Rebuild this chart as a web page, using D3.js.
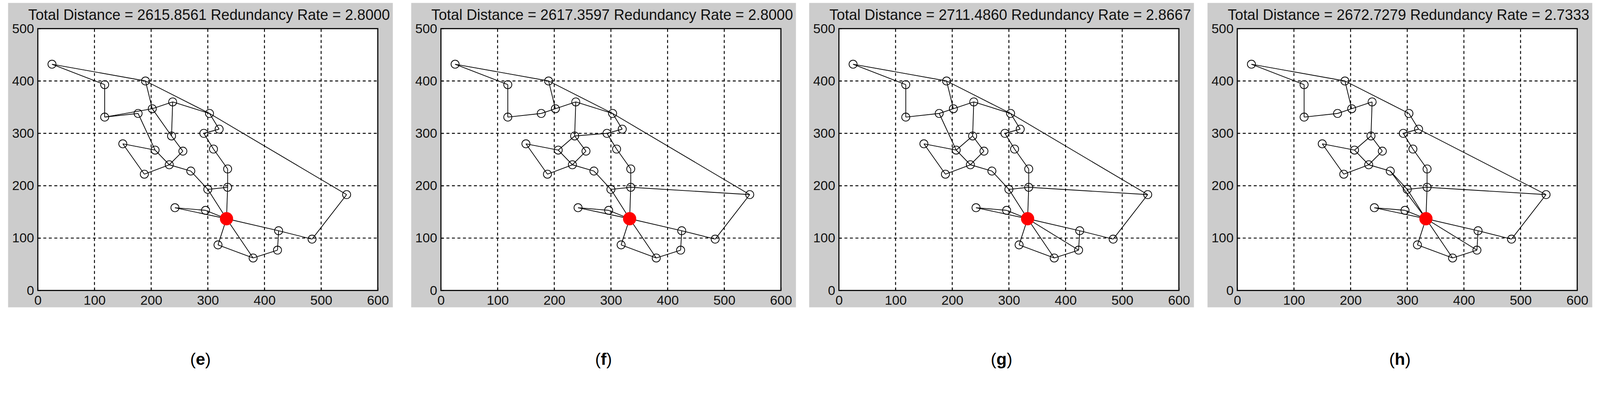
<!DOCTYPE html>
<html>
<head>
<meta charset="utf-8">
<script src="https://cdn.jsdelivr.net/npm/d3@7"></script>
<style>
  html, body { margin: 0; padding: 0; background: #fff; overflow: hidden; }
  svg { display: block; width: 100vw; height: auto; }
  text { font-family: "Liberation Sans", Arial, sans-serif; }
</style>
</head>
<body>
<svg id="chart" viewBox="0 0 4358 1020" preserveAspectRatio="xMinYMin meet"></svg>
<script>
// sensor node positions (same in every panel), index 24 is the sink
const nodeX = [25,118,190,118,177,202,238,303,320,293,236,150,207,256,310,232,270,188,335,300,335,545,242,296,333,425,484,318,380,423];
const nodeY = [432,393,400,331,338,347,360,338,308,300,295,280,268,266,270,240,228,222,232,193,197,183,158,153,137,114,98,87,62,77];
const sink = 24;

const panelLabels = ['e', 'f', 'g', 'h'];
const totalDistance = ['2615.8561', '2617.3597', '2711.4860', '2672.7279'];
const redundancyRate = ['2.8000', '2.8000', '2.8667', '2.7333'];

const edgesE = [[0,1],[0,2],[1,3],[2,5],[2,7],[7,21],[3,4],[3,5],[4,12],[5,6],[5,10],[10,13],[6,10],[6,7],
  [7,8],[8,9],[9,14],[14,18],[18,20],[20,19],[19,16],[16,15],[15,13],[15,17],[12,15],[11,12],[11,17],
  [19,24],[20,24],[22,23],[22,24],[23,24],[24,25],[25,26],[25,29],[29,28],[28,27],[27,24],[28,24],[26,21]];
const edgesF = [[0,1],[0,2],[1,3],[3,4],[4,5],[2,5],[5,6],[6,10],[6,7],[2,7],[7,21],[7,8],[8,9],[9,10],
  [10,12],[10,13],[13,15],[12,15],[11,12],[11,17],[17,15],[15,16],[16,19],[9,14],[14,18],[18,20],[20,19],
  [20,21],[19,24],[20,24],[22,23],[22,24],[23,24],[24,25],[25,26],[26,21],[25,29],[29,28],[28,27],[27,24],[28,24]];
const edgesG = [[0,1],[0,2],[1,3],[3,4],[4,5],[2,5],[5,6],[6,7],[2,7],[7,21],[7,8],[8,9],[6,10],[4,12],
  [10,12],[10,13],[12,15],[13,15],[11,12],[11,17],[17,15],[15,16],[16,19],[9,14],[14,18],[18,20],[19,20],
  [20,21],[19,24],[20,24],[22,23],[22,24],[23,24],[24,25],[25,26],[26,21],[25,29],[29,28],[28,27],[27,24],[28,24],[29,24]];
const edgesH = [[0,1],[0,2],[1,3],[3,4],[4,5],[2,5],[5,6],[6,10],[2,7],[7,8],[8,21],[8,9],[9,14],[14,18],
  [18,20],[20,19],[20,21],[16,19],[19,24],[16,24],[10,12],[10,13],[12,15],[13,15],[11,12],[11,17],[17,15],
  [15,16],[22,23],[22,24],[23,24],[24,25],[25,26],[26,21],[25,29],[29,28],[28,27],[27,24],[28,24],[29,24],[20,24]];
const panelEdges = [edgesE, edgesF, edgesG, edgesH];

const xTicks = [0,100,200,300,400,500,600];
const yTicks = [0,100,200,300,400,500];

const svg = d3.select('#chart');
const panelLeft = [22, 1120, 2204, 3289];
const boxW = 1048, boxTop = 8, boxH = 830;
const inset = { left: 81, right: 41, top: 70, bottom: 46 };
const narrow = '"Liberation Sans Narrow", "Liberation Sans", Arial, sans-serif';

panelLeft.forEach((left, p) => {
  const g = svg.append('g').attr('transform', `translate(${left},${boxTop})`);
  g.append('rect').attr('width', boxW).attr('height', boxH).attr('fill', '#cccccc');

  const x = d3.scaleLinear().domain([0, 600]).range([inset.left, boxW - inset.right]);
  const y = d3.scaleLinear().domain([0, 500]).range([boxH - inset.bottom, inset.top]);

  g.append('rect')
    .attr('x', x(0)).attr('y', y(500))
    .attr('width', x(600) - x(0)).attr('height', y(0) - y(500))
    .attr('fill', '#fff');

  // dashed grid
  g.selectAll('.vgrid').data(xTicks.slice(1, -1)).enter().append('line')
    .attr('x1', d => x(d)).attr('x2', d => x(d)).attr('y1', y(0)).attr('y2', y(500))
    .attr('stroke', '#000').attr('stroke-width', 2.5).attr('stroke-dasharray', '8,7');
  g.selectAll('.hgrid').data(yTicks.slice(1, -1)).enter().append('line')
    .attr('x1', x(0)).attr('x2', x(600)).attr('y1', d => y(d)).attr('y2', d => y(d))
    .attr('stroke', '#000').attr('stroke-width', 2.5).attr('stroke-dasharray', '8,7');

  // axes
  const xAxis = g.append('g').attr('transform', `translate(0,${y(0)})`)
    .call(d3.axisBottom(x).tickValues(xTicks).tickSize(-8).tickPadding(12));
  const yAxis = g.append('g').attr('transform', `translate(${x(0)},0)`)
    .call(d3.axisLeft(y).tickValues(yTicks).tickSize(-8).tickPadding(10));
  [xAxis, yAxis].forEach(a => {
    a.select('.domain').remove();
    a.selectAll('line').attr('stroke', '#000').attr('stroke-width', 2);
    a.selectAll('text').attr('font-size', 36).attr('fill', '#111').attr('font-family', narrow);
  });
  xAxis.selectAll('text').attr('dy', '0.75em');

  g.append('rect')
    .attr('x', x(0)).attr('y', y(500))
    .attr('width', x(600) - x(0)).attr('height', y(0) - y(500))
    .attr('fill', 'none').attr('stroke', '#000').attr('stroke-width', 3);

  // edges
  g.selectAll('.edge').data(panelEdges[p]).enter().append('line')
    .attr('x1', d => x(nodeX[d[0]])).attr('y1', d => y(nodeY[d[0]]))
    .attr('x2', d => x(nodeX[d[1]])).attr('y2', d => y(nodeY[d[1]]))
    .attr('stroke', '#000').attr('stroke-width', 2);

  // nodes
  g.selectAll('.node').data(nodeX.map((v, i) => i)).enter().append('circle')
    .attr('cx', i => x(nodeX[i])).attr('cy', i => y(nodeY[i]))
    .attr('r', i => i === sink ? 17 : 11)
    .attr('fill', i => i === sink ? '#ff0000' : 'none')
    .attr('stroke', i => i === sink ? '#ff0000' : '#000')
    .attr('stroke-width', 2);

  g.append('text')
    .attr('x', 55).attr('y', 46)
    .attr('font-size', 42).attr('fill', '#111').attr('font-family', narrow)
    .attr('textLength', 985).attr('lengthAdjust', 'spacingAndGlyphs')
    .text(`Total Distance = ${totalDistance[p]}  Redundancy Rate = ${redundancyRate[p]}`);

  svg.append('text')
    .attr('x', left + boxW / 2).attr('y', 995)
    .attr('text-anchor', 'middle')
    .attr('font-size', 46)
    .attr('font-family', '"Liberation Serif", "Times New Roman", serif')
    .html(`(<tspan font-weight="bold">${panelLabels[p]}</tspan>)`);
});
</script>
</body>
</html>
